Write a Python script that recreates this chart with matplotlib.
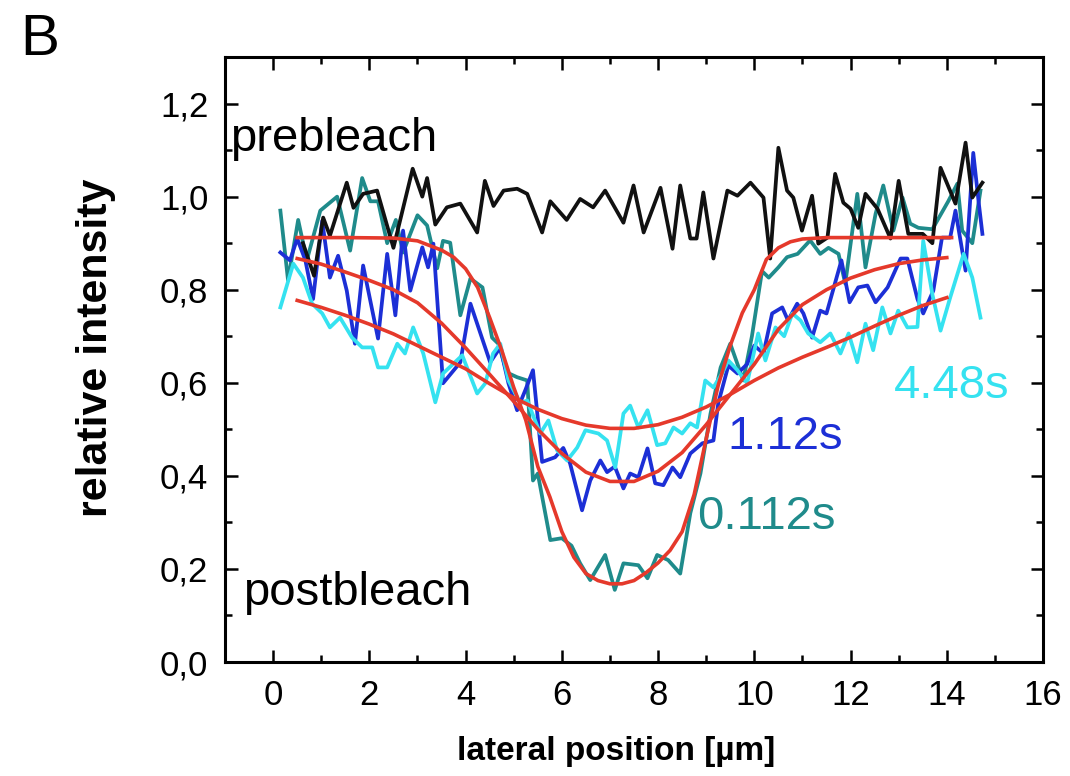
import matplotlib
matplotlib.use("Agg")
import matplotlib.pyplot as plt
from matplotlib.ticker import MultipleLocator

plt.rcParams['font.family'] = ['Liberation Sans', 'DejaVu Sans']

# prebleach profile (black)
black_x = [0.62, 0.85, 1.04, 1.18, 1.53, 1.67, 1.87, 2.16, 2.5, 2.9, 3.1, 3.2, 3.37, 3.61, 3.89,
           4.24, 4.4, 4.58, 4.79, 5.07, 5.28, 5.59, 5.76, 6.1, 6.38, 6.65, 6.9, 7.28, 7.49, 7.7,
           8.05, 8.3, 8.46, 8.67, 8.8, 8.94, 9.15, 9.44, 9.65, 9.92, 10.19, 10.33, 10.5, 10.68, 10.81,
           10.99, 11.2, 11.33, 11.52, 11.68, 11.85, 12.0, 12.16, 12.31, 12.56, 12.83, 13.0, 13.2, 13.5, 13.7,
           13.87, 14.18, 14.39, 14.53, 14.74]
black_y = [0.90, 0.83, 0.955, 0.916, 1.03, 0.976, 1.006, 1.013, 0.89, 1.06, 1.0, 1.04, 0.94, 0.977, 0.985,
           0.923, 1.034, 0.98, 1.013, 1.017, 1.006, 0.923, 0.99, 0.95, 0.995, 0.977, 1.013, 0.944, 1.024, 0.923,
           1.019, 0.888, 1.024, 0.91, 0.91, 1.009, 0.867, 1.013, 1.002, 1.03, 0.998, 0.867, 1.105, 1.013, 0.998,
           0.927, 1.002, 0.899, 0.912, 1.049, 0.987, 0.974, 0.933, 1.006, 0.974, 0.91, 1.034, 0.92, 0.92, 0.9,
           1.062, 0.985, 1.116, 0.998, 1.03]

# 0.112 s after bleach (teal)
teal_x = [0.15, 0.31, 0.52, 0.7, 0.98, 1.33, 1.6, 1.85, 2.02, 2.18, 2.37, 2.55, 2.7, 2.85, 3.0,
          3.2, 3.41, 3.53, 3.68, 3.89, 4.1, 4.35, 4.55, 4.68, 4.86, 5.07, 5.28, 5.4, 5.5, 5.76,
          6.0, 6.2, 6.38, 6.59, 6.9, 7.1, 7.28, 7.59, 7.78, 7.98, 8.21, 8.46, 8.67, 8.88, 9.09,
          9.3, 9.5, 9.77, 9.95, 10.16, 10.3, 10.5, 10.68, 10.9, 11.16, 11.37, 11.54, 11.75, 11.89, 12.14,
          12.31, 12.52, 12.68, 12.89, 13.08, 13.24, 13.41, 13.7, 14.03, 14.22, 14.32, 14.53, 14.7]
teal_y = [0.97, 0.82, 0.95, 0.863, 0.97, 1.0, 0.884, 1.04, 0.99, 0.99, 0.9, 0.95, 0.88, 0.92, 0.96,
          0.938, 0.846, 0.905, 0.901, 0.745, 0.824, 0.805, 0.697, 0.684, 0.622, 0.612, 0.605, 0.39, 0.405, 0.262,
          0.266, 0.25, 0.212, 0.176, 0.23, 0.155, 0.212, 0.208, 0.18, 0.23, 0.219, 0.19, 0.32, 0.405, 0.534,
          0.633, 0.684, 0.605, 0.70, 0.84, 0.826, 0.848, 0.87, 0.877, 0.906, 0.877, 0.89, 0.877, 0.813, 1.006,
          0.848, 0.963, 1.024, 0.927, 0.998, 0.942, 0.933, 0.93, 0.99, 1.028, 0.927, 0.9, 1.013]

# 1.12 s (blue)
blue_x = [0.15, 0.35, 0.5, 0.67, 0.83, 1.02, 1.18, 1.35, 1.53, 1.7, 1.87, 2.18, 2.37, 2.54, 2.7,
          2.85, 3.1, 3.22, 3.33, 3.53, 3.89, 4.1, 4.51, 4.72, 4.89, 5.07, 5.24, 5.4, 5.59, 5.86,
          6.03, 6.17, 6.42, 6.59, 6.8, 6.94, 7.1, 7.28, 7.42, 7.59, 7.78, 7.94, 8.11, 8.3, 8.46,
          8.67, 8.92, 9.15, 9.25, 9.46, 9.65, 9.85, 10.0, 10.19, 10.37, 10.58, 10.7, 10.89, 11.02, 11.2,
          11.37, 11.5, 11.81, 11.98, 12.16, 12.35, 12.52, 12.77, 13.04, 13.18, 13.39, 13.51, 13.72, 13.9, 14.07,
          14.18, 14.39, 14.55, 14.66, 14.74]
blue_y = [0.88, 0.863, 0.91, 0.863, 0.78, 0.948, 0.826, 0.873, 0.798, 0.684, 0.852, 0.695, 0.877, 0.745, 0.927,
          0.798, 0.891, 0.848, 0.899, 0.599, 0.644, 0.77, 0.644, 0.676, 0.599, 0.541, 0.584, 0.627, 0.43, 0.44,
          0.46, 0.427, 0.326, 0.39, 0.433, 0.408, 0.42, 0.373, 0.405, 0.397, 0.459, 0.384, 0.38, 0.418, 0.397,
          0.448, 0.47, 0.476, 0.556, 0.637, 0.62, 0.64, 0.68, 0.663, 0.749, 0.762, 0.734, 0.77, 0.749, 0.697,
          0.755, 0.749, 0.863, 0.773, 0.805, 0.809, 0.773, 0.805, 0.867, 0.867, 0.78, 0.749, 0.798, 0.912, 0.912,
          0.97, 0.841, 1.094, 0.99, 0.92]

# 4.48 s (cyan)
cyan_x = [0.15, 0.42, 0.62, 0.81, 1.02, 1.18, 1.39, 1.64, 1.85, 2.06, 2.18, 2.37, 2.58, 2.74, 2.91,
          3.12, 3.37, 3.53, 3.93, 4.24, 4.41, 4.57, 4.72, 4.89, 5.14, 5.28, 5.55, 5.72, 5.9, 6.11,
          6.32, 6.49, 6.76, 6.94, 7.11, 7.28, 7.42, 7.59, 7.78, 7.98, 8.15, 8.32, 8.5, 8.67, 8.81,
          8.98, 9.15, 9.33, 9.46, 9.65, 9.85, 10.08, 10.23, 10.44, 10.62, 10.79, 10.96, 11.12, 11.37, 11.58,
          11.79, 11.96, 12.14, 12.31, 12.47, 12.66, 12.83, 12.99, 13.18, 13.39, 13.51, 13.7, 13.87, 14.07, 14.35,
          14.53, 14.7]
cyan_y = [0.762, 0.856, 0.826, 0.77, 0.749, 0.719, 0.74, 0.697, 0.676, 0.676, 0.633, 0.633, 0.684, 0.663, 0.719,
          0.663, 0.558, 0.62, 0.659, 0.577, 0.599, 0.663, 0.684, 0.605, 0.556, 0.562, 0.491, 0.519, 0.455, 0.433,
          0.461, 0.498, 0.491, 0.476, 0.418, 0.534, 0.551, 0.504, 0.541, 0.466, 0.47, 0.504, 0.491, 0.513, 0.504,
          0.605, 0.59, 0.62, 0.648, 0.627, 0.599, 0.706, 0.648, 0.719, 0.70, 0.749, 0.734, 0.706, 0.687, 0.706,
          0.663, 0.706, 0.644, 0.727, 0.67, 0.762, 0.706, 0.755, 0.719, 0.72, 0.905, 0.79, 0.712, 0.783, 0.877,
          0.826, 0.74]

# fitted profiles (red)
fit1_x = [0.5, 1.5, 2.5, 3.0, 3.5, 3.75, 4.0, 4.25, 4.5, 4.75, 5.0, 5.25, 5.5, 5.75, 6.0,
          6.25, 6.5, 6.75, 7.0, 7.25, 7.5, 7.75, 8.0, 8.25, 8.5, 8.75, 9.0, 9.25, 9.5, 9.75,
          10.0, 10.25, 10.5, 10.75, 11.0, 11.5, 12.5, 13.5, 14.1]
fit1_y = [0.912, 0.912, 0.911, 0.905, 0.885, 0.87, 0.845, 0.805, 0.74, 0.67, 0.59, 0.52, 0.42, 0.355, 0.28,
          0.225, 0.19, 0.175, 0.168, 0.168, 0.175, 0.192, 0.213, 0.24, 0.28, 0.36, 0.48, 0.595, 0.68, 0.75,
          0.80, 0.865, 0.89, 0.903, 0.909, 0.912, 0.912, 0.912, 0.912]

fit_x = [0.5, 1.0, 1.5, 2.0, 2.5, 3.0, 3.5, 4.0, 4.5, 5.0, 5.5, 6.0, 6.5, 7.0,
         7.5, 8.0, 8.5, 9.0, 9.5, 10.0, 10.5, 11.0, 11.5, 12.0, 12.5, 13.0, 13.5, 14.0]
fit2_y = [0.867, 0.855, 0.838, 0.82, 0.80, 0.772, 0.728, 0.675, 0.618, 0.56, 0.50, 0.448, 0.408, 0.388,
          0.388, 0.41, 0.45, 0.51, 0.575, 0.64, 0.715, 0.768, 0.80, 0.825, 0.843, 0.856, 0.864, 0.869]
fit3_y = [0.777, 0.762, 0.745, 0.726, 0.705, 0.68, 0.655, 0.63, 0.598, 0.568, 0.543, 0.523, 0.509, 0.502,
          0.502, 0.51, 0.526, 0.548, 0.575, 0.605, 0.632, 0.655, 0.676, 0.698, 0.722, 0.745, 0.766, 0.783]

y_ticks = [0.0, 0.2, 0.4, 0.6, 0.8, 1.0, 1.2]
y_ticklabels = ['0,0', '0,2', '0,4', '0,6', '0,8', '1,0', '1,2']

c_black = '#111111'
c_teal = '#1f8b8b'
c_blue = '#1c2fd6'
c_cyan = '#35e2f0'
c_red = '#e5392b'

fig = plt.figure(figsize=(10.7, 7.76), dpi=100)
ax = fig.add_axes([0.2103, 0.1469, 0.7645, 0.7796])

lw = 2.7
ax.plot(teal_x, teal_y, color=c_teal, lw=lw)
ax.plot(blue_x, blue_y, color=c_blue, lw=lw)
ax.plot(cyan_x, cyan_y, color=c_cyan, lw=lw)
ax.plot(black_x, black_y, color=c_black, lw=lw)
for fx, fy in [(fit1_x, fit1_y), (fit_x, fit2_y), (fit_x, fit3_y)]:
    ax.plot(fx, fy, color=c_red, lw=2.6)

ax.set_xlim(-1, 16)
ax.set_ylim(0, 1.3)
ax.set_xticks(range(0, 17, 2))
ax.xaxis.set_minor_locator(MultipleLocator(1))
ax.set_yticks(y_ticks)
ax.set_yticklabels(y_ticklabels)
ax.yaxis.set_minor_locator(MultipleLocator(0.1))

for s in ax.spines.values():
    s.set_linewidth(2.2)
ax.tick_params(which='both', direction='in', top=True, right=True, width=1.8, labelsize=25, pad=12)
ax.tick_params(which='major', length=9)
ax.tick_params(which='minor', length=5)

ax.set_xlabel('lateral position [µm]', fontsize=24, fontweight='bold')
ax.xaxis.set_label_coords(0.478, -0.122)
ax.set_ylabel('relative intensity', fontsize=31, fontweight='bold')
ax.yaxis.set_label_coords(-0.133, 0.52)

ax.text(-0.89, 1.099, 'prebleach', fontsize=34, va='baseline', ha='left')
ax.text(-0.62, 0.122, 'postbleach', fontsize=34, va='baseline', ha='left')
ax.text(12.9, 0.594, '4.48s', fontsize=34, color=c_cyan, va='center', ha='left')
ax.text(9.44, 0.483, '1.12s', fontsize=34, color=c_blue, va='center', ha='left')
ax.text(8.81, 0.311, '0.112s', fontsize=34, color=c_teal, va='center', ha='left')

fig.text(20 / 1070, 1 - 55 / 776, 'B', fontsize=42, va='baseline', ha='left')

fig.savefig('out.png', dpi=100)
